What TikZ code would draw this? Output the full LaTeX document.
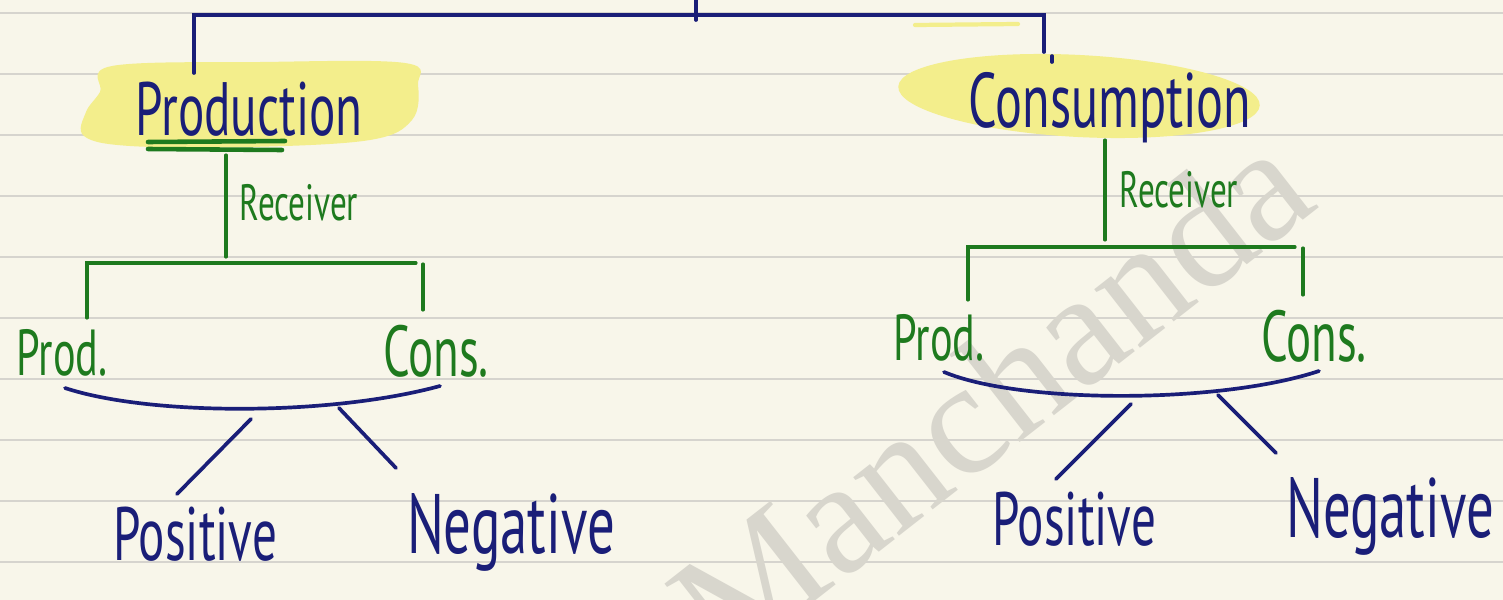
\documentclass[tikz,border=0pt]{standalone}
\usepackage{fontspec}
\newfontfamily\hand[FakeStretch=0.65]{PT Sans}
\newfontfamily\wmfont{Liberation Serif}
\definecolor{paper}{RGB}{248,246,234}
\definecolor{rulecol}{RGB}{214,212,206}
\definecolor{ink}{RGB}{26,30,120}
\definecolor{grn}{RGB}{30,122,30}
\definecolor{hl}{RGB}{243,238,140}
\definecolor{wm}{RGB}{216,214,205}
\tikzset{
  blueline/.style={draw=ink, line width=1.05pt, line cap=round},
  greenline/.style={draw=grn, line width=0.9pt, line cap=round},
  sz/.style={font={\hand\fontsize{#1}{#1}\selectfont}},
  bluetext/.style={text=ink, inner sep=0pt, anchor=base},
  greentext/.style={text=grn, inner sep=0pt, anchor=base},
  paperline/.style={draw=rulecol, line width=0.6pt},
}
\begin{document}
\begin{tikzpicture}[x=0.01cm,y=-0.01cm]
% paper
\fill[paper] (0,0) rectangle (1503,600);
\useasboundingbox (0,0) rectangle (1503,600);
\foreach \yy in {13,74,135,196,257,318,379,440,501,562}
  \draw[paperline] (0,\yy) -- (1503,\yy);

% watermark
\node[rotate=38, text=wm, font={\wmfont\fontsize{46pt}{48pt}\selectfont}, inner sep=0pt] (wmark) at (990,395) {Manchanda};

% highlights
\fill[hl] plot[smooth cycle, tension=0.6] coordinates {(112,66) (260,62) (405,63) (418,85) (412,120) (370,140) (250,147) (130,146) (84,136) (86,112) (100,92)};
\fill[hl, rotate around={-3:(1079,96)}] (1079,96) ellipse (181 and 41);
\draw[hl, line width=1.2pt, line cap=round] (915,25) -- (1018,24);

% main labels
\node[bluetext, sz=21.5pt] (prodH) at (249,135) {Production};
\node[bluetext, sz=22pt] (consH) at (1110,127) {Consumption};

% top bracket
\coordinate (tick) at (696,0);
\coordinate (tickB) at (696,20);
\coordinate (topL) at (194,15);
\coordinate (topR) at (1044,15);
\coordinate (dropL) at (194,73);
\coordinate (dropR) at (1044,52);
\coordinate (dotA) at (1052,56);
\coordinate (dotB) at (1052,62);
\draw[blueline] (tick) -- (tickB);
\draw[blueline] (dropL) -- (topL) -- (topR) -- (dropR);
\draw[blueline] (dotA) -- (dotB);

% underline of Production
\coordinate (ulA) at (148,142);
\coordinate (ulB) at (285,141);
\coordinate (ulC) at (148,149);
\coordinate (ulD) at (282,150);
\draw[grn, line width=1.3pt, line cap=round] (ulA) -- (ulB);
\draw[grn, line width=1.3pt, line cap=round] (ulC) -- (ulD);

% ---------- left branch ----------
\coordinate (lStemT) at (226,155);
\coordinate (lStemB) at (226,257);
\draw[greenline] (lStemT) -- (lStemB);
\node[greentext, sz=14.5pt] (recL) at (299,220) {Receiver};
\coordinate (lBarL) at (87,263);
\coordinate (lBarR) at (416,263);
\coordinate (lLegL) at (87,318);
\coordinate (lLegRt) at (423,264);
\coordinate (lLegRb) at (423,310);
\draw[greenline] (lLegL) -- (lBarL) -- (lBarR);
\draw[greenline] (lLegRt) -- (lLegRb);
\node[greentext, sz=18.5pt] (prodL) at (62,375) {Prod.};
\node[greentext, sz=20.5pt] (consL) at (436,376) {Cons.};

\coordinate (lArcA) at (65,388);
\coordinate (lArcB) at (440,386);
\draw[blueline] (lArcA) .. controls (150,416) and (330,416) .. (lArcB);
\coordinate (lPosT) at (251,419);
\coordinate (lPosB) at (177,494);
\coordinate (lNegT) at (339,408);
\coordinate (lNegB) at (396,468);
\draw[blueline] (lPosT) -- (lPosB);
\draw[blueline] (lNegT) -- (lNegB);
\node[bluetext, sz=21.5pt] (posL) at (195,560) {Positive};
\node[bluetext, sz=24pt] (negL) at (511,553) {Negative};

% ---------- right branch ----------
\coordinate (rStemT) at (1105,140);
\coordinate (rStemB) at (1105,240);
\draw[greenline] (rStemT) -- (rStemB);
\node[greentext, sz=14.5pt] (recR) at (1179,207) {Receiver};
\coordinate (rBarL) at (968,247);
\coordinate (rBarR) at (1295,247);
\coordinate (rLegL) at (968,300);
\coordinate (rLegRt) at (1303,248);
\coordinate (rLegRb) at (1303,295);
\draw[greenline] (rLegL) -- (rBarL) -- (rBarR);
\draw[greenline] (rLegRt) -- (rLegRb);
\node[greentext, sz=18.5pt] (prodR) at (939,360) {Prod.};
\node[greentext, sz=20.5pt] (consR) at (1314,361) {Cons.};

\coordinate (rArcA) at (944,372);
\coordinate (rArcB) at (1319,371);
\draw[blueline] (rArcA) .. controls (1020,404) and (1220,404) .. (rArcB);
\coordinate (rPosT) at (1131,404);
\coordinate (rPosB) at (1056,479);
\coordinate (rNegT) at (1218,395);
\coordinate (rNegB) at (1276,453);
\draw[blueline] (rPosT) -- (rPosB);
\draw[blueline] (rNegT) -- (rNegB);
\node[bluetext, sz=21.5pt] (posR) at (1074,545) {Positive};
\node[bluetext, sz=24pt] (negR) at (1390,537) {Negative};
\end{tikzpicture}
\end{document}
